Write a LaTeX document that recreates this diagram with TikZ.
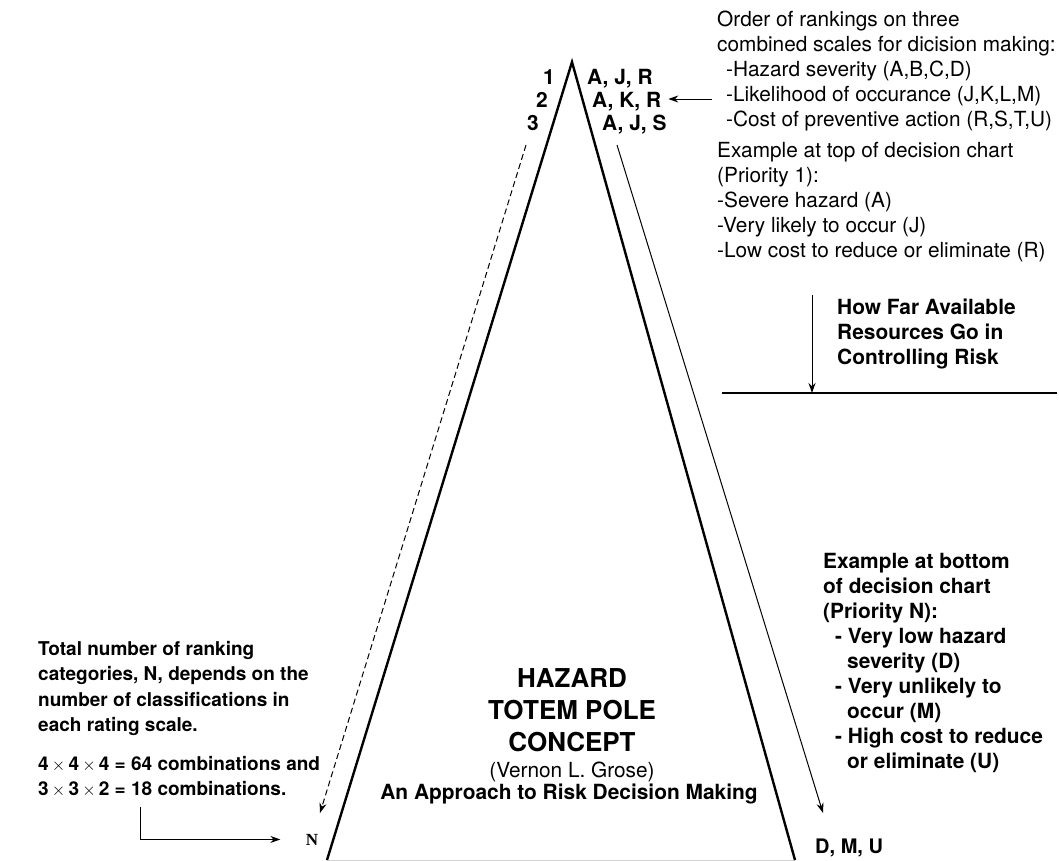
\documentclass[tikz,border=0pt]{standalone}
\usepackage{fontspec}
\setmainfont{TeX Gyre Heros}
\newfontfamily\serifN{Liberation Serif}
\usetikzlibrary{arrows.meta}

\begin{document}
\begin{tikzpicture}[x=1pt, y=-1pt, >={Stealth[length=10pt, width=7pt]},
    note/.style={inner sep=0pt, align=left, font=\fontsize{20.8}{25}\selectfont},
    bnote/.style={inner sep=0pt, align=left, font=\bfseries\fontsize{20.9}{25}\selectfont},
    snote/.style={inner sep=0pt, align=left, font=\bfseries\fontsize{19}{25.5}\selectfont},
    pole/.style={line width=2.4pt, line join=miter},
    guide/.style={line width=1pt}]
    \useasboundingbox (0,0) rectangle (1059,860);

    % the pole
    \coordinate (apex) at (572,62);
    \coordinate (bl) at (327,860);
    \coordinate (br) at (795,860);
    \draw[gray!35, line width=1pt] (bl) -- (br);
    \draw[pole] (bl) -- (apex) -- (br);

    % rankings at the top
    \node[bnote, anchor=base east] (r1) at (555,84) {1};
    \node[bnote, anchor=base east] (r2) at (548,107) {2};
    \node[bnote, anchor=base east] (r3) at (539,130) {3};
    \node[bnote, anchor=base west] (ajr) at (587,84) {A, J, R};
    \node[bnote, anchor=base west] (akr) at (592,107) {A, K, R};
    \node[bnote, anchor=base west] (ajs) at (602,130) {A, J, S};

    \node[note, anchor=north west] (scales) at (717,11) {Order of rankings on three\\combined scales for dicision making:\\\hspace*{9pt}-Hazard severity (A,B,C,D)\\\hspace*{9pt}-Likelihood of occurance (J,K,L,M)\\\hspace*{9pt}-Cost of preventive action (R,S,T,U)};
    \node[note, anchor=north west] (topex) at (717,142) {Example at top of decision chart\\(Priority 1):\\-Severe hazard (A)\\-Very likely to occur (J)\\-Low cost to reduce or eliminate (R)};
    \coordinate (likestart) at (712,99);
    \draw[->, guide] (likestart) -- (likestart -| akr.east) [shorten >=7pt];

    % resources
    \node[bnote, anchor=north west] (reach) at (837,299) {How Far Available\\Resources Go in\\Controlling Risk};
    \coordinate (reachtop) at (812,295);
    \coordinate (cutl) at (722,393);
    \coordinate (cutr) at (1057,393);
    \draw[guide, line width=1.3pt] (cutl) -- (cutr);
    \draw[->, guide] (reachtop) -- (reachtop |- cutl);

    % down the pole
    \coordinate (dashtop) at (526,145);
    \coordinate (dashend) at (320,813);
    \coordinate (runtop) at (617,145);
    \coordinate (runend) at (823,813);
    \draw[->, guide, dash pattern=on 6pt off 3.5pt] (dashtop) -- (dashend);
    \draw[->, guide] (runtop) -- (runend);

    % title
    \node[inner sep=0pt, align=center, anchor=north, font=\bfseries\fontsize{26}{32}\selectfont] (title) at (572,668) {HAZARD\\TOTEM POLE\\CONCEPT};
    \node[note, anchor=base] (author) at (572,777) {(Vernon L. Grose)};
    \node[bnote, anchor=base] (approach) at (569,799) {An Approach to Risk Decision Making};

    % bottom
    \node[bnote, anchor=north west] (botex) at (823,553) {Example at bottom\\of decision chart\\(Priority N):\\\hspace*{12pt}- Very low hazard\\\hspace*{24pt}severity (D)\\\hspace*{12pt}- Very unlikely to\\\hspace*{24pt}occur (M)\\\hspace*{12pt}- High cost to reduce\\\hspace*{24pt}or eliminate (U)};
    \node[bnote, anchor=base west, font=\bfseries\fontsize{20}{24}\selectfont] (dmu) at (815,853) {D, M, U};

    \node[snote, anchor=north west] (total) at (38,641) {Total number of ranking\\categories, N, depends on the\\number of classifications in\\each rating scale.};
    \node[snote, anchor=north west] (combos) at (38,756) {4\,$\times$\,4\,$\times$\,4 = 64 combinations and\\3\,$\times$\,3\,$\times$\,2 = 18 combinations.};
    \node[anchor=base, font=\serifN\bfseries\fontsize{17}{20}\selectfont] (nlast) at (312,845) {N};
    \coordinate (combfoot) at (140,807);
    \draw[->, guide] (combfoot) |- (nlast.west) [shorten >=22pt];
\end{tikzpicture}
\end{document}
